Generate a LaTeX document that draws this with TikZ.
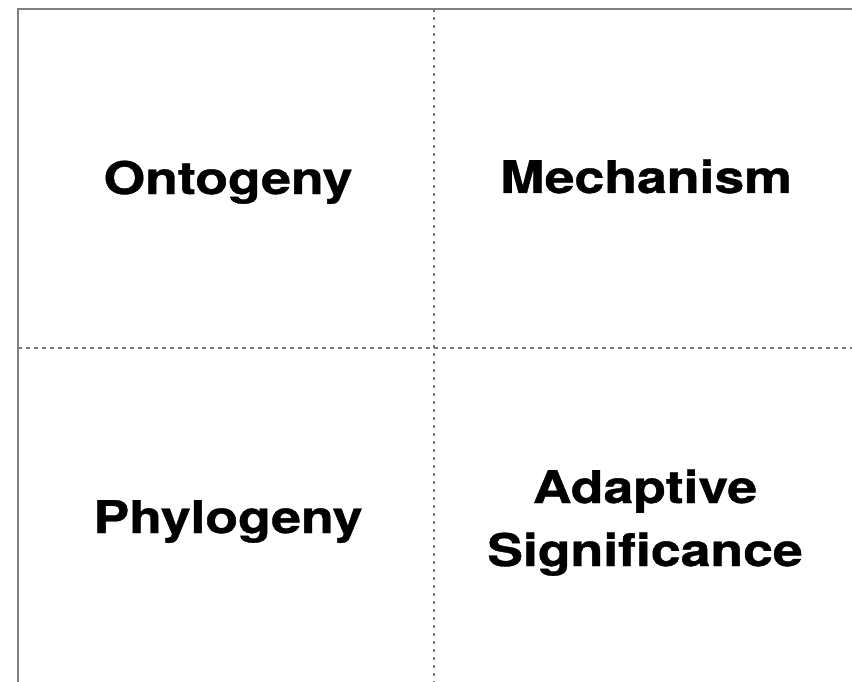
\documentclass[tikz,border=0pt]{standalone}
\usepackage{fontspec}
\setmainfont{TeX Gyre Heros}
\newfontfamily\cellfont[FakeBold=0.8]{TeX Gyre Heros Bold}

\begin{document}
\begin{tikzpicture}[x=1pt,y=-1pt,
    cell/.style={font=\cellfont\fontsize{45}{63}\selectfont, xscale=1.19, align=center, inner sep=0pt, anchor=base}]
    \definecolor{framegray}{RGB}{128,128,128}
    \definecolor{dashgray}{RGB}{120,120,120}

    \fill[white] (0,0) rectangle (852,682);
    \useasboundingbox (0,0) rectangle (852,682);

    % frame: only the left and top edges show
    \draw[framegray, line width=2pt] (18,682) -- (18,9) -- (852,9);

    % dashed dividers between the four fields
    \draw[dashgray, line width=1.5pt, dash pattern=on 4pt off 4pt] (18,348) -- (852,348);
    \draw[dashgray, line width=1.5pt, dash pattern=on 3pt off 5pt] (434,9) -- (434,682);

    % field labels
    \node[cell] (onto) at (228,194) {Ontogeny};
    \node[cell] (mech) at (646,193) {Mechanism};
    \node[cell] (phylo) at (228,533) {Phylogeny};
    \node[cell] (adapt) at (645,566) {Adaptive\\Significance};
  \end{tikzpicture}
\end{document}
